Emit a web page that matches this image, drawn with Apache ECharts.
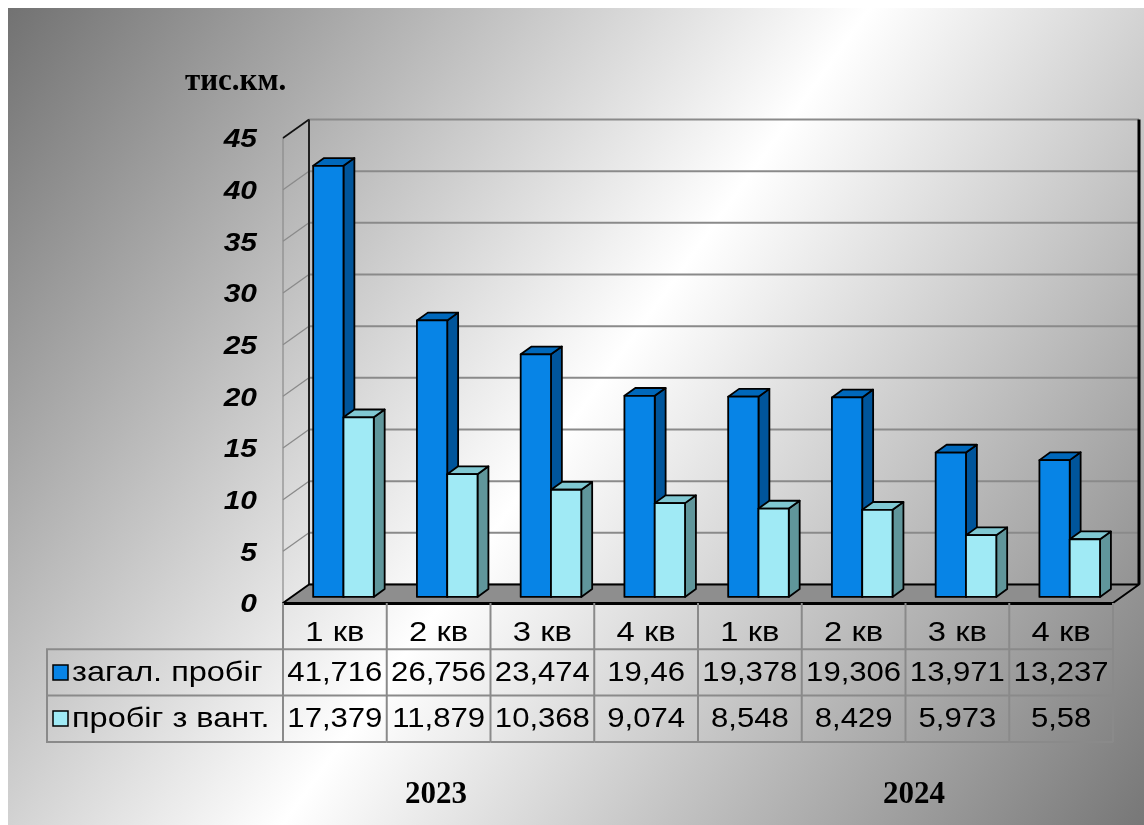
<!DOCTYPE html>
<html>
<head>
<meta charset="utf-8">
<script src="https://cdn.jsdelivr.net/npm/echarts@6/dist/echarts.min.js"></script>
<style>
  html, body { margin: 0; padding: 0; background: #ffffff; }
  #chart { width: 1144px; height: 825px; }
</style>
</head>
<body>
<div id="chart"></div>
<script>
// Quarterly mileage, thousand km
const quarters = ['1 кв', '2 кв', '3 кв', '4 кв', '1 кв', '2 кв', '3 кв', '4 кв'];
const years = ['2023', '2024'];
const seriesNames = ['загал. пробіг', 'пробіг з вант.'];
const totalRun = [41.716, 26.756, 23.474, 19.46, 19.378, 19.306, 13.971, 13.237];
const loadedRun = [17.379, 11.879, 10.368, 9.074, 8.548, 8.429, 5.973, 5.58];
const yMin = 0, yMax = 45, yStep = 5;
const unitLabel = 'тис.км.';

// pseudo-3D depth of the floor / walls and of the columns
const DEPTH = [26, -18.5];
const BAR_SHIFT = [8.6, -6.1];
const BAR_DEPTH = [10.9, -7.8];
const BAR_FRACTION = 0.292;

const FACE = [
  { front: '#0784e6', side: '#00559b', top: '#0068bb' },
  { front: '#a0eaf5', side: '#60969b', top: '#80c8d2' }
];

const fmt = v => String(v).replace('.', ',');
const SANS = '"Liberation Sans", Arial, sans-serif';
const SERIF = '"Liberation Serif", "Times New Roman", serif';
const GRID_GRAY = '#8a8a8a';

const chart = echarts.init(document.getElementById('chart'), null, { renderer: 'canvas' });

function poly(points, fill, stroke, lw) {
  return { type: 'polygon', shape: { points }, style: { fill, stroke, lineWidth: lw, lineJoin: 'round' } };
}
function line(x1, y1, x2, y2, stroke, lw) {
  return { type: 'line', shape: { x1, y1, x2, y2 }, style: { stroke, lineWidth: lw } };
}
// text widened a little, like the stretched fonts of the original slide
function wideText(text, x, y, font, align, sx) {
  return {
    type: 'text', x, y, scaleX: sx,
    style: { text, x: 0, y: 0, align, verticalAlign: 'middle', font, fill: '#000' }
  };
}

// floor, side wall, back wall with gridlines, and the value-axis labels
function renderWalls(params, api) {
  const bw = api.size([1, 0])[0];
  const left = api.coord([0, 0])[0] - bw / 2;
  const right = api.coord([quarters.length - 1, 0])[0] + bw / 2;
  const y = v => api.coord([0, v])[1];
  const dx = DEPTH[0], dy = DEPTH[1];
  const kids = [];
  for (let v = yMin; v <= yMax; v += yStep) {
    kids.push(line(left + dx, y(v) + dy, right + dx, y(v) + dy, GRID_GRAY, 2));
    if (v > yMin && v < yMax) kids.push(line(left, y(v), left + dx, y(v) + dy, GRID_GRAY, 1.3));
    kids.push(wideText(String(v), left - 26, y(v) + 2, 'italic bold 26px ' + SANS, 'right', 1.15));
  }
  kids.push(line(left, y(yMax), left, y(yMin), GRID_GRAY, 1.2));
  kids.push(line(left, y(yMax), left + dx, y(yMax) + dy, '#111', 1.6));
  kids.push(line(left + dx, y(yMax) + dy, left + dx, y(yMin) + dy, '#222', 2));
  kids.push(line(right + dx, y(yMax) + dy, right + dx, y(yMin) + dy, '#000', 3));
  kids.push(poly([[left, y(yMin)], [right, y(yMin)], [right + dx, y(yMin) + dy], [left + dx, y(yMin) + dy]],
    '#8e8e8e', '#000', 2));
  kids.push(line(left, y(yMin) + 0.5, right, y(yMin) + 0.5, '#000', 3));
  return { type: 'group', children: kids };
}

// one column drawn as front, side and top faces
function renderBar(params, api) {
  const s = params.seriesIndex - 1;
  const c = FACE[s];
  const i = api.value(0), v = api.value(1);
  const bw = api.size([1, 0])[0];
  const w = bw * BAR_FRACTION;
  const base = api.coord([i, 0]);
  const top = api.coord([i, v]);
  const cx = base[0] + BAR_SHIFT[0];
  const x1 = s === 0 ? cx - w : cx;
  const x2 = x1 + w;
  const yb = base[1] + BAR_SHIFT[1];
  const yt = top[1] + BAR_SHIFT[1];
  const dx = BAR_DEPTH[0], dy = BAR_DEPTH[1];
  return {
    type: 'group',
    children: [
      poly([[x2, yt], [x2 + dx, yt + dy], [x2 + dx, yb + dy], [x2, yb]], c.side, '#000', 1.8),
      poly([[x1, yt], [x2, yt], [x2 + dx, yt + dy], [x1 + dx, yt + dy]], c.top, '#000', 1.8),
      poly([[x1, yt], [x2, yt], [x2, yb], [x1, yb]], c.front, '#000', 1.8)
    ]
  };
}

// data table under the floor: quarter labels and the two value rows
const ROW_H = 46.3;
const ROW_TEXT = [30, 70, 116];
function renderTable(params, api) {
  const i = params.dataIndex;
  const bw = api.size([1, 0])[0];
  const p = api.coord([i, 0]);
  const cx = p[0], y0 = p[1];
  const l = cx - bw / 2, r = cx + bw / 2;
  const yEnd = y0 + ROW_H * 3;
  const kids = [
    line(r, y0, r, yEnd, GRID_GRAY, 2),
    line(l, y0 + ROW_H, r, y0 + ROW_H, GRID_GRAY, 2),
    line(l, y0 + ROW_H * 2, r, y0 + ROW_H * 2, GRID_GRAY, 2),
    line(l, yEnd, r, yEnd, GRID_GRAY, 2)
  ];
  if (i === 0) kids.push(line(l, y0, l, yEnd, GRID_GRAY, 2));
  const font = '28px ' + SANS;
  kids.push(wideText(quarters[i], cx, y0 + ROW_TEXT[0], font, 'center', 1.17));
  kids.push(wideText(fmt(totalRun[i]), cx, y0 + ROW_TEXT[1], font, 'center', 1.11));
  kids.push(wideText(fmt(loadedRun[i]), cx, y0 + ROW_TEXT[2], font, 'center', 1.11));
  return { type: 'group', children: kids };
}

const gridTop = 138, gridBottom = 222, gridLeft = 283, gridRight = 31;
const tableTop = 825 - gridBottom;

const graphics = [
  {
    type: 'rect', z: -100, silent: true,
    shape: { x: 8, y: 8, width: 1136, height: 817 },
    style: {
      fill: new echarts.graphic.LinearGradient(0, 0, 1, 1, [
        { offset: 0, color: '#727272' },
        { offset: 0.5, color: '#ffffff' },
        { offset: 1, color: '#777777' }
      ])
    }
  },
  {
    type: 'text', silent: true, x: 185, y: 82,
    style: { text: unitLabel, x: 0, y: 0, verticalAlign: 'middle', font: 'bold 31px ' + SERIF, fill: '#000' }
  },
  {
    type: 'rect', silent: true,
    shape: { x: 47, y: tableTop + ROW_H, width: gridLeft - 47, height: ROW_H * 2 },
    style: { fill: 'none', stroke: GRID_GRAY, lineWidth: 2 }
  },
  {
    type: 'line', silent: true,
    shape: { x1: 47, y1: tableTop + ROW_H * 2, x2: gridLeft, y2: tableTop + ROW_H * 2 },
    style: { stroke: GRID_GRAY, lineWidth: 2 }
  }
];
seriesNames.forEach((name, k) => {
  const cy = tableTop + ROW_TEXT[k + 1];
  graphics.push({
    type: 'rect', silent: true,
    shape: { x: 53, y: cy - 8, width: 15, height: 15 },
    style: { fill: FACE[k].front, stroke: '#000', lineWidth: 1.5 }
  });
  graphics.push({
    type: 'text', silent: true, x: 72, y: cy, scaleX: 1.16,
    style: { text: name, x: 0, y: 0, verticalAlign: 'middle', font: '28px ' + SANS, fill: '#000' }
  });
});
[436, 914].forEach((x, k) => {
  graphics.push({
    type: 'text', silent: true,
    style: { text: years[k], x, y: 795, align: 'center', verticalAlign: 'middle', font: 'bold 31px ' + SERIF, fill: '#000' }
  });
});

chart.setOption({
  animation: false,
  grid: { left: gridLeft, right: gridRight, top: gridTop, bottom: gridBottom },
  xAxis: {
    type: 'category', data: quarters,
    axisLine: { show: false }, axisTick: { show: false }, axisLabel: { show: false }, splitLine: { show: false }
  },
  yAxis: {
    type: 'value', min: yMin, max: yMax, interval: yStep,
    axisLine: { show: false }, axisTick: { show: false }, splitLine: { show: false }, axisLabel: { show: false }
  },
  graphic: graphics,
  series: [
    { type: 'custom', name: 'walls', clip: false, z: 1, data: [[0, 0]], renderItem: renderWalls },
    { type: 'custom', name: seriesNames[0], clip: false, z: 2, data: totalRun.map((v, i) => [i, v]), renderItem: renderBar },
    { type: 'custom', name: seriesNames[1], clip: false, z: 3, data: loadedRun.map((v, i) => [i, v]), renderItem: renderBar },
    { type: 'custom', name: 'table', clip: false, z: 4, data: quarters.map((q, i) => [i, 0]), renderItem: renderTable }
  ]
});
</script>
</body>
</html>
